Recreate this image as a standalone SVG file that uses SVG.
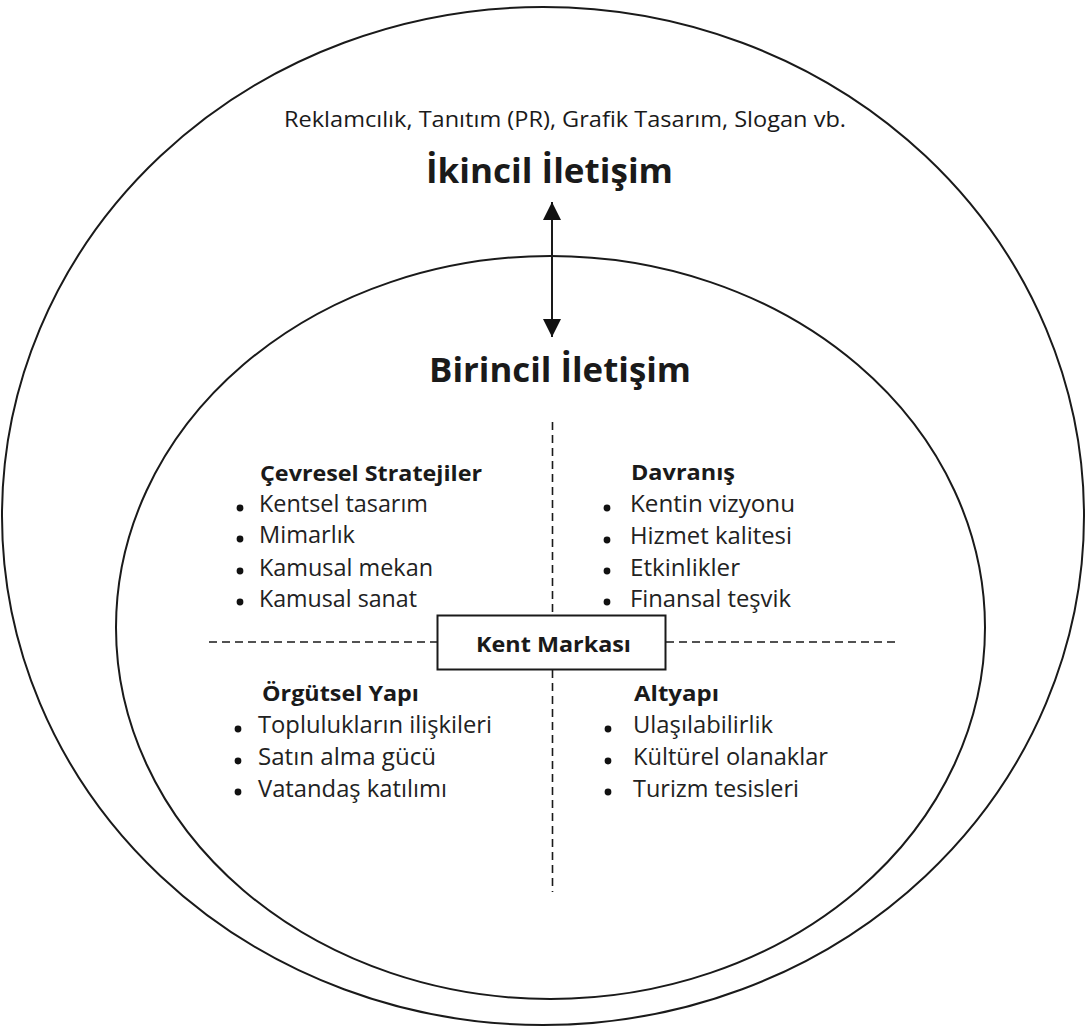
<svg xmlns="http://www.w3.org/2000/svg" width="1086" height="1026" viewBox="0 0 1086 1026">
<defs>
<style>
.ring{fill:none;stroke:#1a1a1a;stroke-width:2}
.dash{fill:none;stroke:#1a1a1a;stroke-width:1.6;stroke-dasharray:8 5}
.t{font-family:"Open Sans","Noto Sans","Liberation Sans",sans-serif;fill:#1a1a1a}
.item{font-size:23px;fill:#222}
.head{font-size:21px;font-weight:bold}
.title{font-size:34px;font-weight:bold}
.dot{fill:#111}
</style>
<marker id="ah" viewBox="0 0 18 18" refX="18" refY="9" markerWidth="18" markerHeight="18" markerUnits="userSpaceOnUse" orient="auto-start-reverse">
<path d="M0,0 L18,9 L0,18 Z" fill="#111"/>
</marker>
</defs>
<rect width="1086" height="1026" fill="#fff"/>
<g id="outer">
<ellipse class="ring" cx="543" cy="516" rx="541" ry="509"/>
<text class="t" x="284" y="127" font-size="22" fill="#222" textLength="562" lengthAdjust="spacingAndGlyphs">Reklamcılık, Tanıtım (PR), Grafik Tasarım, Slogan vb.</text>
<text class="t title" x="426" y="183" textLength="247" lengthAdjust="spacingAndGlyphs">İkincil İletişim</text>
</g>
<g id="inner">
<ellipse class="ring" cx="550.5" cy="627.5" rx="434.5" ry="371.5"/>
<text class="t title" x="429" y="382" textLength="262" lengthAdjust="spacingAndGlyphs">Birincil İletişim</text>
</g>
<g id="connectors">
<line x1="552" y1="337" x2="552" y2="202" stroke="#1a1a1a" stroke-width="2" marker-start="url(#ah)" marker-end="url(#ah)"/>
<line class="dash" x1="552.5" y1="422" x2="552.5" y2="615"/>
<line class="dash" x1="552.5" y1="670" x2="552.5" y2="892"/>
<line class="dash" x1="209" y1="642" x2="437" y2="642"/>
<line class="dash" x1="666" y1="642" x2="896" y2="642"/>
</g>
<g id="kent-markasi">
<rect x="437.5" y="615.5" width="228" height="54" fill="#fff" stroke="#1a1a1a" stroke-width="2"/>
<text class="t head" x="476" y="652" font-size="23" textLength="155" lengthAdjust="spacingAndGlyphs">Kent Markası</text>
</g>
<g id="cevresel">
<text class="t head" x="260" y="481" textLength="222" lengthAdjust="spacingAndGlyphs">Çevresel Stratejiler</text>
<circle class="dot" cx="240" cy="508" r="3.4"/>
<circle class="dot" cx="240" cy="539" r="3.4"/>
<circle class="dot" cx="240" cy="571" r="3.4"/>
<circle class="dot" cx="240" cy="602" r="3.4"/>
<text class="t item" x="259" y="512" textLength="169" lengthAdjust="spacingAndGlyphs">Kentsel tasarım</text>
<text class="t item" x="259" y="543" textLength="96" lengthAdjust="spacingAndGlyphs">Mimarlık</text>
<text class="t item" x="259" y="576" textLength="174" lengthAdjust="spacingAndGlyphs">Kamusal mekan</text>
<text class="t item" x="259" y="607" textLength="158" lengthAdjust="spacingAndGlyphs">Kamusal sanat</text>
</g>
<g id="davranis">
<text class="t head" x="631" y="480" textLength="104" lengthAdjust="spacingAndGlyphs">Davranış</text>
<circle class="dot" cx="607" cy="508" r="3.4"/>
<circle class="dot" cx="607" cy="540" r="3.4"/>
<circle class="dot" cx="607" cy="571" r="3.4"/>
<circle class="dot" cx="607" cy="602" r="3.4"/>
<text class="t item" x="630" y="512" textLength="165" lengthAdjust="spacingAndGlyphs">Kentin vizyonu</text>
<text class="t item" x="630" y="544" textLength="162" lengthAdjust="spacingAndGlyphs">Hizmet kalitesi</text>
<text class="t item" x="630" y="576" textLength="110" lengthAdjust="spacingAndGlyphs">Etkinlikler</text>
<text class="t item" x="630" y="607" textLength="161" lengthAdjust="spacingAndGlyphs">Finansal teşvik</text>
</g>
<g id="orgutsel">
<text class="t head" x="262" y="701" textLength="157" lengthAdjust="spacingAndGlyphs">Örgütsel Yapı</text>
<circle class="dot" cx="238" cy="729" r="3.4"/>
<circle class="dot" cx="238" cy="761" r="3.4"/>
<circle class="dot" cx="238" cy="792" r="3.4"/>
<text class="t item" x="258" y="733" textLength="234" lengthAdjust="spacingAndGlyphs">Toplulukların ilişkileri</text>
<text class="t item" x="258" y="765" textLength="178" lengthAdjust="spacingAndGlyphs">Satın alma gücü</text>
<text class="t item" x="258" y="797" textLength="189" lengthAdjust="spacingAndGlyphs">Vatandaş katılımı</text>
</g>
<g id="altyapi">
<text class="t head" x="634" y="701" textLength="85" lengthAdjust="spacingAndGlyphs">Altyapı</text>
<circle class="dot" cx="608" cy="729" r="3.4"/>
<circle class="dot" cx="608" cy="761" r="3.4"/>
<circle class="dot" cx="608" cy="792" r="3.4"/>
<text class="t item" x="633" y="733" textLength="140" lengthAdjust="spacingAndGlyphs">Ulaşılabilirlik</text>
<text class="t item" x="633" y="765" textLength="195" lengthAdjust="spacingAndGlyphs">Kültürel olanaklar</text>
<text class="t item" x="633" y="797" textLength="166" lengthAdjust="spacingAndGlyphs">Turizm tesisleri</text>
</g>
</svg>
